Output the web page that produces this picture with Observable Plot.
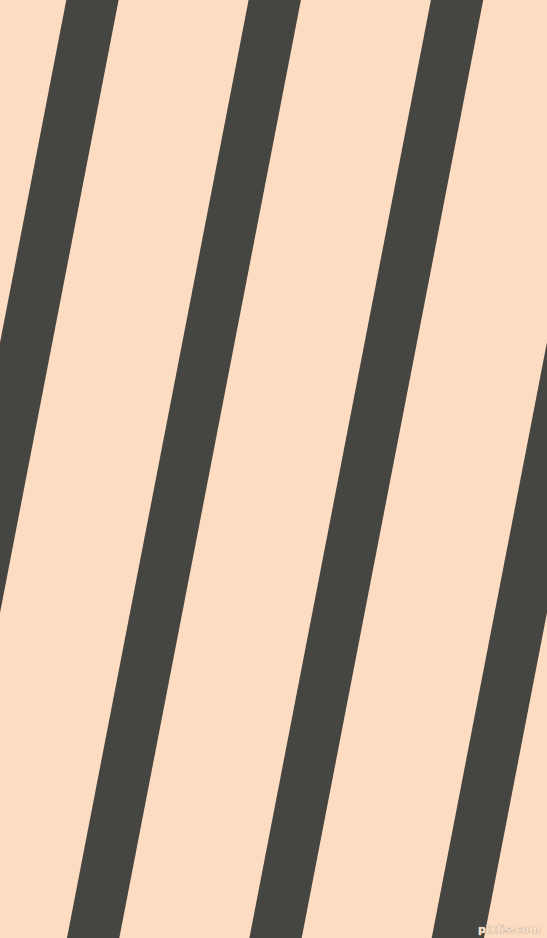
<!DOCTYPE html>
<html>
<head>
<meta charset="utf-8">
<script src="https://cdn.jsdelivr.net/npm/d3@7"></script>
<script src="https://cdn.jsdelivr.net/npm/@observablehq/plot@0.6"></script>
<style>
  html, body { margin: 0; padding: 0; background: #FDDCC1; }
  #chart { width: 547px; height: 938px; overflow: hidden; }
</style>
</head>
<body>
<div id="chart"></div>
<script>
// Stripe left-edge x positions at the top (y = 0) and at the bottom (y = 938)
const stripeTopLeft = [-115.2, 66.3, 248.6, 430.9, 613.2];
const stripeBottomLeft = [-297.5, -115.2, 67.0, 249.4, 431.7];
const stripeWidth = 52.3;
const yTop = 0, yBottom = 938;
const watermark = "pixlis.com";

const rows = [];
stripeTopLeft.forEach((x, i) => {
  rows.push({stripe: i, y: yTop, x1: x, x2: x + stripeWidth});
  rows.push({stripe: i, y: yBottom, x1: stripeBottomLeft[i], x2: stripeBottomLeft[i] + stripeWidth});
});

const chart = Plot.plot({
  width: 547,
  height: 938,
  margin: 0,
  x: {domain: [0, 547], range: [0, 547], axis: null},
  y: {domain: [0, 938], range: [0, 938], axis: null},
  style: {background: "#FDDCC1", overflow: "hidden"},
  marks: [
    Plot.areaX(rows, {y: "y", x1: "x1", x2: "x2", z: "stripe", fill: "#454641", clip: true}),
    Plot.text([watermark], {x: [540], y: [929], text: d => d, textAnchor: "end",
      fontSize: 11, fontFamily: "DejaVu Sans", fontWeight: "bold",
      fill: "#FFE3CC", stroke: "#A89C92", strokeWidth: 0.7})
  ]
});
document.getElementById("chart").appendChild(chart);
</script>
</body>
</html>
